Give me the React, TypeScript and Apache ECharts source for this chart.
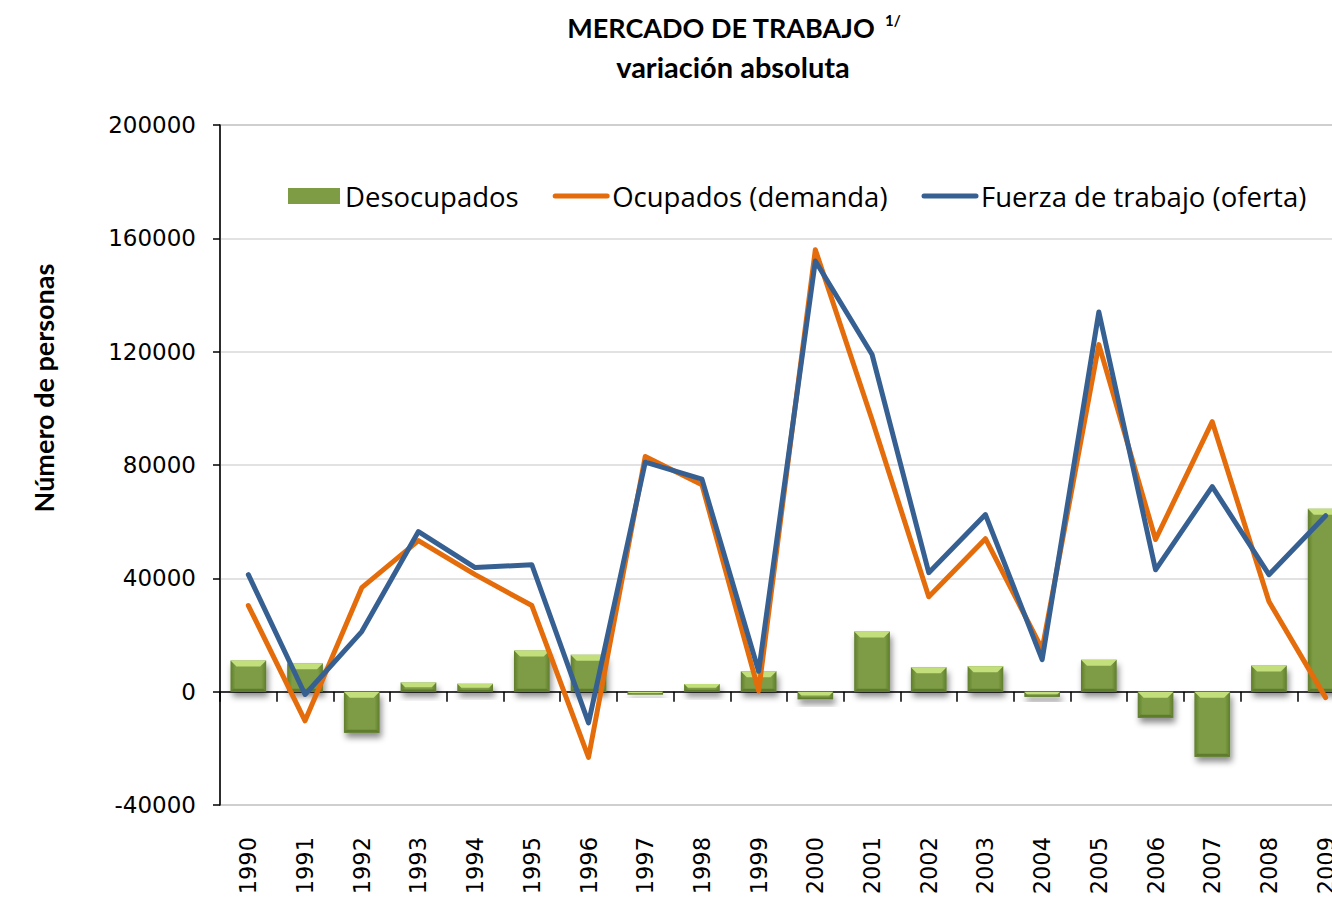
import React, { useEffect, useRef } from "react";
import * as echarts from "echarts";

const years = ["1990","1991","1992","1993","1994","1995","1996","1997","1998","1999","2000","2001","2002","2003","2004","2005","2006","2007","2008","2009"];
const desocupados = [11000, 10000, -14500, 3200, 2800, 14500, 13000, -1000, 2700, 7200, -2700, 21200, 8600, 9000, -1800, 11300, -9200, -23000, 9200, 64600];
const ocupados = [30400, -10300, 36700, 53300, 41300, 30400, -23200, 83000, 73000, 300, 156000, 96000, 33500, 54000, 15000, 122500, 53700, 95300, 31800, -2100];
const fuerza = [41300, -1000, 21200, 56500, 43800, 44800, -11000, 81000, 75000, 7200, 152000, 119000, 42000, 62500, 11300, 134000, 43000, 72400, 41300, 62100];
const yTicks = { min: -40000, max: 200000, interval: 40000 };

const bodyGradient = new echarts.graphic.LinearGradient(0, 0, 1, 0, [
  { offset: 0, color: "#5f7d2c" },
  { offset: 0.14, color: "#7d9c44" },
  { offset: 0.86, color: "#7d9c44" },
  { offset: 1, color: "#5f7d2c" },
]);

export default function App() {
  const ref = useRef<HTMLDivElement>(null);
  useEffect(() => {
    const chart = echarts.init(ref.current!, null, { renderer: "svg" });
    chart.setOption({
      animation: false,
      backgroundColor: "#ffffff",
      grid: {
        left: 220, top: 125, bottom: 101, right: -22,
        outerBoundsMode: "none",
        containLabel: false,
        show: true, borderColor: "#9a9a9a", borderWidth: 1.5, backgroundColor: "transparent",
      },
      legend: {
        left: 288, top: 182, padding: 0,
        itemWidth: 52, itemHeight: 16, itemGap: 34,
        textStyle: { fontFamily: "Open Sans", fontSize: 27.5, color: "#000" },
        data: [
          { name: "Desocupados", icon: "rect" },
          { name: "Ocupados (demanda)", itemStyle: { opacity: 0 }, lineStyle: { width: 5, cap: "round" } },
          { name: "Fuerza de trabajo (oferta)", itemStyle: { opacity: 0 }, lineStyle: { width: 5, cap: "round" } },
        ],
      },
      xAxis: {
        type: "category",
        data: years,
        axisLine: { onZero: true, lineStyle: { color: "#000", width: 1.5 } },
        axisTick: { show: true, length: 10, lineStyle: { color: "#000", width: 1.5 } },
        axisLabel: {
          rotate: 90, margin: 32, interval: 0,
          fontFamily: "DejaVu Sans", fontSize: 22.5, color: "#000",
        },
        splitLine: { show: false },
      },
      yAxis: {
        type: "value",
        min: yTicks.min, max: yTicks.max, interval: yTicks.interval,
        axisLine: { show: true, lineStyle: { color: "#000", width: 1.5 } },
        axisTick: { show: true, length: 7, lineStyle: { color: "#000", width: 1.5 } },
        axisLabel: { margin: 24, fontFamily: "DejaVu Sans", fontSize: 23, color: "#000", formatter: (v: number) => String(v) },
        splitLine: { show: true, lineStyle: { color: "#d9d9d9", width: 1.5 } },
      },
      graphic: [
        { type: "text", x: 721, y: 27, style: { text: "MERCADO DE TRABAJO", font: "bold 27px Lato", fill: "#000", align: "center", verticalAlign: "middle" } },
        { type: "text", x: 885, y: 20, style: { text: "1/", font: "bold 15px Lato", fill: "#000", align: "left", verticalAlign: "middle" } },
        { type: "text", x: 733, y: 66, style: { text: "variación absoluta", font: "bold 29px Lato", fill: "#000", align: "center", verticalAlign: "middle" } },
        { type: "text", x: 43, y: 388, rotation: Math.PI / 2, style: { text: "Número de personas", font: "bold 27px Lato", fill: "#000", align: "center", verticalAlign: "middle" } },
      ],
      series: [
        {
          name: "Desocupados",
          type: "custom",
          data: desocupados.map((v, i) => [i, v]),
          encode: { x: 0, y: 1 },
          itemStyle: { color: "#7d9c44" },
          renderItem: (params: any, api: any) => {
            const idx = api.value(0);
            const v = api.value(1);
            const p0 = api.coord([idx, 0]);
            const p1 = api.coord([idx, v]);
            const bw = api.size([1, 0])[0] * 0.63;
            const left = p0[0] - bw / 2;
            const top = Math.min(p0[1], p1[1]);
            const h = Math.abs(p1[1] - p0[1]);
            const b = Math.min(6, h / 2);
            const bb = Math.min(3, h / 4);
            return {
              type: "group",
              children: [
                {
                  type: "rect",
                  shape: { x: left, y: top, width: bw, height: h },
                  style: { fill: bodyGradient, shadowBlur: 6, shadowOffsetX: 2, shadowOffsetY: 5, shadowColor: "rgba(0,0,0,0.45)" },
                },
                {
                  type: "polygon",
                  shape: { points: [[left, top], [left + bw, top], [left + bw - b, top + b], [left + b, top + b]] },
                  style: { fill: "#c2df7c" },
                },
                {
                  type: "polygon",
                  shape: { points: [[left, top + h], [left + bw, top + h], [left + bw - bb, top + h - bb], [left + bb, top + h - bb]] },
                  style: { fill: "#5e7b2e" },
                },
              ],
            };
          },
          z: 1,
        },
        {
          name: "Ocupados (demanda)",
          type: "line",
          data: ocupados,
          symbol: "none",
          lineStyle: { color: "#e46c0a", width: 5, cap: "round", join: "round" },
          itemStyle: { color: "#e46c0a" },
          z: 2,
        },
        {
          name: "Fuerza de trabajo (oferta)",
          type: "line",
          data: fuerza,
          symbol: "none",
          lineStyle: { color: "#376092", width: 5, cap: "round", join: "round" },
          itemStyle: { color: "#376092" },
          z: 3,
        },
      ],
    });
    return () => chart.dispose();
  }, []);
  return <div ref={ref} style={{ position: "absolute", left: 0, top: 0, width: 1332, height: 906 }} />;
}
